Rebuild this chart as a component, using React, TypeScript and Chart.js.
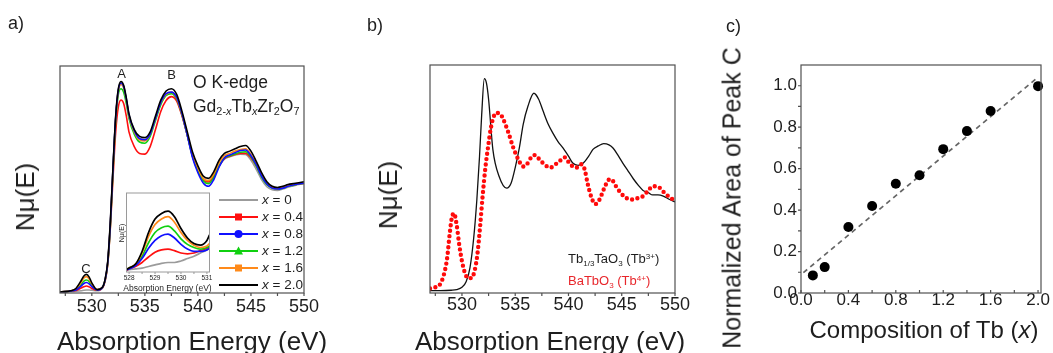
import React, { useEffect, useRef } from "react";
import { Chart, registerables } from "chart.js";

Chart.register(...registerables);

const FONT = "'Liberation Sans', Arial, Helvetica, sans-serif";
const TEXT = "#1e1e1e";

// ---------------- Panel a: O K-edge of Gd(2-x)Tb(x)Zr2O7 ----------------
const energyA = [527, 527.5, 528, 528.5, 529, 529.25, 529.5, 529.75, 530, 530.5, 531, 531.25, 531.5, 531.75, 532, 532.25, 532.5, 532.75, 533, 533.25, 533.5, 534, 534.5, 535, 535.5, 536, 536.5, 537, 537.5, 538, 538.5, 539, 539.5, 540, 540.5, 541, 541.5, 542, 542.5, 543, 543.5, 544, 544.5, 545, 545.5, 546, 546.5, 547, 547.5, 548, 548.5, 549, 549.5, 550];
const nmuX00 = [0.005, 0.006, 0.007, 0.008, 0.01, 0.012, 0.013, 0.013, 0.012, 0.01, 0.022, 0.055, 0.13, 0.3, 0.55, 0.77, 0.89, 0.92, 0.905, 0.85, 0.78, 0.71, 0.68, 0.678, 0.7, 0.77, 0.835, 0.872, 0.88, 0.855, 0.785, 0.695, 0.6, 0.54, 0.498, 0.488, 0.515, 0.56, 0.59, 0.6, 0.608, 0.612, 0.61, 0.585, 0.545, 0.5, 0.468, 0.455, 0.452, 0.458, 0.466, 0.472, 0.478, 0.482];
const nmuX04 = [0.005, 0.006, 0.008, 0.011, 0.022, 0.028, 0.031, 0.027, 0.02, 0.012, 0.022, 0.052, 0.125, 0.29, 0.51, 0.71, 0.82, 0.85, 0.835, 0.78, 0.71, 0.645, 0.615, 0.612, 0.645, 0.72, 0.8, 0.848, 0.865, 0.845, 0.78, 0.695, 0.605, 0.545, 0.5, 0.49, 0.515, 0.56, 0.592, 0.602, 0.61, 0.615, 0.615, 0.595, 0.56, 0.515, 0.482, 0.466, 0.462, 0.466, 0.472, 0.476, 0.48, 0.483];
const nmuX08 = [0.005, 0.006, 0.009, 0.013, 0.031, 0.042, 0.046, 0.04, 0.028, 0.013, 0.024, 0.057, 0.135, 0.31, 0.555, 0.775, 0.895, 0.925, 0.91, 0.855, 0.785, 0.715, 0.68, 0.675, 0.7, 0.77, 0.84, 0.878, 0.885, 0.862, 0.79, 0.695, 0.595, 0.53, 0.485, 0.47, 0.5, 0.555, 0.595, 0.608, 0.618, 0.628, 0.63, 0.605, 0.565, 0.515, 0.48, 0.462, 0.458, 0.462, 0.47, 0.476, 0.48, 0.484];
const nmuX12 = [0.005, 0.006, 0.009, 0.015, 0.038, 0.052, 0.057, 0.05, 0.033, 0.014, 0.024, 0.056, 0.13, 0.3, 0.54, 0.76, 0.875, 0.9, 0.885, 0.835, 0.77, 0.7, 0.665, 0.66, 0.69, 0.76, 0.83, 0.87, 0.878, 0.855, 0.785, 0.695, 0.6, 0.54, 0.495, 0.482, 0.51, 0.56, 0.595, 0.605, 0.612, 0.62, 0.622, 0.6, 0.56, 0.512, 0.478, 0.462, 0.458, 0.462, 0.47, 0.475, 0.48, 0.484];
const nmuX16 = [0.005, 0.006, 0.01, 0.018, 0.048, 0.066, 0.072, 0.062, 0.04, 0.015, 0.025, 0.058, 0.135, 0.31, 0.55, 0.77, 0.89, 0.92, 0.905, 0.85, 0.78, 0.71, 0.675, 0.67, 0.7, 0.77, 0.84, 0.875, 0.885, 0.86, 0.79, 0.7, 0.61, 0.55, 0.505, 0.495, 0.525, 0.575, 0.605, 0.615, 0.625, 0.632, 0.635, 0.61, 0.57, 0.52, 0.485, 0.465, 0.46, 0.465, 0.472, 0.478, 0.482, 0.486];
const nmuX20 = [0.005, 0.006, 0.01, 0.02, 0.055, 0.075, 0.082, 0.07, 0.045, 0.015, 0.025, 0.06, 0.14, 0.32, 0.56, 0.78, 0.9, 0.932, 0.915, 0.86, 0.79, 0.72, 0.69, 0.685, 0.71, 0.78, 0.85, 0.89, 0.9, 0.875, 0.8, 0.71, 0.62, 0.56, 0.515, 0.505, 0.535, 0.585, 0.615, 0.625, 0.635, 0.645, 0.65, 0.625, 0.58, 0.53, 0.49, 0.47, 0.465, 0.47, 0.478, 0.482, 0.486, 0.49];
const compositionLabelsA = ["0", "0.4", "0.8", "1.2", "1.6", "2.0"];
const seriesA = [nmuX00, nmuX04, nmuX08, nmuX12, nmuX16, nmuX20];

// inset (pre-edge peak C)
const energyInset = [527.9, 528, 528.25, 528.5, 528.75, 529, 529.25, 529.5, 529.75, 530, 530.25, 530.5, 530.75, 531, 531.1];
const insetX00 = [0.02, 0.03, 0.04, 0.05, 0.07, 0.09, 0.11, 0.12, 0.12, 0.14, 0.17, 0.2, 0.24, 0.28, 0.3];
const insetX04 = [0.02, 0.04, 0.07, 0.12, 0.19, 0.25, 0.28, 0.29, 0.27, 0.24, 0.23, 0.24, 0.27, 0.3, 0.32];
const insetX08 = [0.03, 0.04, 0.08, 0.17, 0.3, 0.4, 0.46, 0.48, 0.43, 0.35, 0.29, 0.26, 0.26, 0.28, 0.3];
const insetX12 = [0.03, 0.05, 0.09, 0.2, 0.37, 0.5, 0.56, 0.58, 0.52, 0.42, 0.35, 0.31, 0.29, 0.31, 0.33];
const insetX16 = [0.03, 0.05, 0.1, 0.24, 0.45, 0.6, 0.67, 0.7, 0.63, 0.5, 0.4, 0.34, 0.31, 0.33, 0.36];
const insetX20 = [0.03, 0.05, 0.1, 0.26, 0.5, 0.67, 0.74, 0.77, 0.7, 0.55, 0.43, 0.36, 0.34, 0.4, 0.47];
const seriesInset = [insetX00, insetX04, insetX08, insetX12, insetX16, insetX20];

const energyTicks = [527.5, 530, 532.5, 535, 537.5, 540, 542.5, 545, 547.5, 550];
const energyLabels = [530, 535, 540, 545, 550];
const insetTicks = [528, 528.5, 529, 529.5, 530, 530.5, 531];
const insetLabels = [528, 529, 530, 531];

// ---------------- Panel b: references ----------------
const energyTb3 = [527, 528, 529, 529.5, 530, 530.4, 530.75, 531.1, 531.4, 531.65, 531.85, 532.1, 532.3, 532.5, 532.9, 533.5, 534.2, 534.6, 535, 535.4, 535.75, 536.2, 536.75, 537.2, 537.6, 538.1, 538.55, 539, 539.5, 540, 540.4, 540.9, 541.4, 541.9, 542.3, 542.8, 543.3, 543.8, 544.2, 544.7, 545.1, 545.6, 546.1, 546.6, 547, 547.5, 547.9, 548.4, 548.9, 549.5, 550];
const nmuTb3 = [0.01, 0.01, 0.012, 0.015, 0.025, 0.05, 0.11, 0.24, 0.41, 0.6, 0.78, 0.94, 0.92, 0.85, 0.63, 0.51, 0.46, 0.48, 0.55, 0.64, 0.74, 0.82, 0.876, 0.85, 0.8, 0.74, 0.7, 0.665, 0.635, 0.6, 0.57, 0.56, 0.57, 0.6, 0.63, 0.645, 0.655, 0.65, 0.635, 0.6, 0.57, 0.535, 0.5, 0.47, 0.45, 0.44, 0.43, 0.43, 0.425, 0.41, 0.4];
const energyTb4 = [527, 527.5, 527.9, 528.3, 528.6, 528.85, 529.05, 529.25, 529.5, 529.75, 530, 530.3, 530.6, 530.9, 531.2, 531.45, 531.7, 531.95, 532.2, 532.45, 532.7, 532.95, 533.25, 533.6, 533.9, 534.35, 534.8, 535.3, 535.75, 536.1, 536.5, 536.85, 537.2, 537.6, 538, 538.3, 538.8, 539.2, 539.65, 540, 540.4, 540.75, 541.2, 541.5, 541.8, 542.15, 542.5, 542.8, 543.1, 543.5, 543.9, 544.2, 544.5, 544.9, 545.3, 545.7, 546.1, 546.6, 547, 547.5, 547.9, 548.3, 548.6, 549, 549.5, 550];
const nmuTb4 = [0.02, 0.025, 0.035, 0.08, 0.15, 0.26, 0.33, 0.35, 0.3, 0.21, 0.14, 0.085, 0.065, 0.066, 0.1, 0.17, 0.29, 0.43, 0.55, 0.64, 0.72, 0.77, 0.79, 0.785, 0.76, 0.705, 0.64, 0.585, 0.555, 0.565, 0.595, 0.605, 0.59, 0.57, 0.555, 0.55, 0.565, 0.58, 0.595, 0.575, 0.555, 0.55, 0.565, 0.545, 0.48, 0.42, 0.39, 0.4, 0.43, 0.475, 0.5, 0.49, 0.465, 0.44, 0.42, 0.412, 0.41, 0.418, 0.425, 0.45, 0.468, 0.468, 0.46, 0.44, 0.42, 0.405];

// ---------------- Panel c: normalized area of peak C ----------------
const compositionTb = [0.1, 0.2, 0.4, 0.6, 0.8, 1.0, 1.2, 1.4, 1.6, 2.0];
const peakCArea = [0.085, 0.125, 0.318, 0.42, 0.527, 0.568, 0.694, 0.781, 0.878, 0.998];
const fitX = [0.02, 1.98];
const fitY = [0.098, 1.032];
const compTicks = [0, 0.2, 0.4, 0.6, 0.8, 1.0, 1.2, 1.4, 1.6, 1.8, 2.0];
const compLabels = [0, 0.4, 0.8, 1.2, 1.6, 2.0];
const areaTicks = [0, 0.1, 0.2, 0.3, 0.4, 0.5, 0.6, 0.7, 0.8, 0.9, 1.0];
const areaLabels = [0, 0.2, 0.4, 0.6, 0.8, 1.0];

// ---------------- styles ----------------
const STYLE_A = [
  { color: "#9b9b9b", marker: "none", order: 5 },
  { color: "#ff1010", marker: "square", order: 4 },
  { color: "#1010ff", marker: "circle", order: 1 },
  { color: "#10d010", marker: "triangle", order: 3 },
  { color: "#ff8a1a", marker: "square", order: 2 },
  { color: "#000000", marker: "none", order: 0 },
];
const RED_B = "#ff0a0a";

type Rect = { left: number; top: number; width: number; height: number };
type Box = { l: number; t: number; r: number; b: number };

const pts = (xs: number[], ys: number[]) => xs.map((x, i) => ({ x, y: ys[i] }));

function linearAxis(o: { min: number; max: number; ticks: number[]; labels: number[]; show: boolean; size?: number; padding?: number; digits?: number }) {
  return {
    type: "linear",
    min: o.min,
    max: o.max,
    grid: { display: false, drawTicks: false, tickLength: 0 },
    border: { display: false },
    afterBuildTicks: (s: any) => {
      s.ticks = o.ticks.map((v) => ({ value: v }));
    },
    ticks: {
      display: o.show,
      autoSkip: false,
      maxRotation: 0,
      minRotation: 0,
      padding: o.padding ?? 0,
      color: TEXT,
      font: { family: FONT, size: o.size ?? 17 },
      callback: (v: number) => (o.labels.some((l) => Math.abs(l - v) < 1e-6) ? Number(v).toFixed(o.digits ?? 0) : ""),
    },
  };
}

function framePlugin(o: { color: string; width: number; xTick?: number; yTick?: number; fill?: string }) {
  return {
    id: "frame",
    beforeDraw(chart: any) {
      if (!o.fill) return;
      const a = chart.chartArea;
      const ctx = chart.ctx;
      ctx.save();
      ctx.fillStyle = o.fill;
      ctx.fillRect(a.left, a.top, a.right - a.left, a.bottom - a.top);
      ctx.restore();
    },
    afterDraw(chart: any) {
      const { ctx, chartArea: a, scales } = chart;
      ctx.save();
      ctx.strokeStyle = o.color;
      ctx.lineWidth = o.width;
      ctx.strokeRect(a.left, a.top, a.right - a.left, a.bottom - a.top);
      ctx.beginPath();
      if (o.xTick) {
        for (const t of scales.x.ticks) {
          const p = scales.x.getPixelForValue(t.value);
          ctx.moveTo(p, a.bottom);
          ctx.lineTo(p, a.bottom + o.xTick);
        }
      }
      if (o.yTick) {
        for (const t of scales.y.ticks) {
          const p = scales.y.getPixelForValue(t.value);
          ctx.moveTo(a.left, p);
          ctx.lineTo(a.left - o.yTick, p);
        }
      }
      ctx.stroke();
      ctx.restore();
    },
  };
}

function drawMarker(ctx: CanvasRenderingContext2D, kind: string, x: number, y: number, color: string) {
  ctx.fillStyle = color;
  ctx.beginPath();
  if (kind === "square") {
    ctx.rect(x - 3.5, y - 3.5, 7, 7);
  } else if (kind === "circle") {
    ctx.arc(x, y, 4, 0, Math.PI * 2);
  } else if (kind === "triangle") {
    ctx.moveTo(x, y - 4.5);
    ctx.lineTo(x + 4.5, y + 3.5);
    ctx.lineTo(x - 4.5, y + 3.5);
    ctx.closePath();
  } else return;
  ctx.fill();
}

const legendAPlugin = {
  id: "legendA",
  afterDraw(chart: any) {
    const ctx: CanvasRenderingContext2D = chart.ctx;
    ctx.save();
    compositionLabelsA.forEach((lab, i) => {
      const st = STYLE_A[i];
      const y = 200 + 17 * i;
      ctx.strokeStyle = st.color;
      ctx.lineWidth = 1.8;
      ctx.beginPath();
      ctx.moveTo(219, y);
      ctx.lineTo(258, y);
      ctx.stroke();
      drawMarker(ctx, st.marker, 238.5, y, st.color);
      ctx.fillStyle = TEXT;
      ctx.textBaseline = "middle";
      ctx.textAlign = "left";
      ctx.font = `italic 13.5px ${FONT}`;
      ctx.fillText("x", 262, y);
      const w = ctx.measureText("x").width;
      ctx.font = `13.5px ${FONT}`;
      ctx.fillText(" = " + lab, 262 + w, y);
    });
    ctx.restore();
  },
};

function baseOptions(scales: any) {
  return {
    responsive: false,
    maintainAspectRatio: false,
    animation: false,
    devicePixelRatio: 1,
    events: [],
    plugins: { legend: { display: false }, tooltip: { enabled: false }, title: { display: false } },
    scales,
  };
}

function ChartCanvas(props: { rect: Rect; box: Box; make: () => any }) {
  const ref = useRef<HTMLCanvasElement | null>(null);
  useEffect(() => {
    const { rect, box } = props;
    const cfg = props.make();
    const padL = box.l - rect.left;
    const padT = box.t - rect.top;
    const padR = rect.left + rect.width - box.r;
    const padB = rect.top + rect.height - box.b;
    const fix = (size: number) => (s: any) => {
      if (s.isHorizontal()) s.height = size;
      else s.width = size;
      s.paddingLeft = 0;
      s.paddingRight = 0;
      s.paddingTop = 0;
      s.paddingBottom = 0;
    };
    cfg.options.scales.x.afterFit = fix(padB);
    cfg.options.scales.y.afterFit = fix(padL);
    cfg.options.layout = { padding: { left: 0, top: padT, right: padR, bottom: 0 } };
    const chart = new Chart(ref.current as HTMLCanvasElement, cfg);
    return () => chart.destroy();
  }, []);
  const r = props.rect;
  return (
    <canvas
      ref={ref}
      width={r.width}
      height={r.height}
      style={{ position: "absolute", left: r.left, top: r.top, width: r.width, height: r.height, display: "block" }}
    />
  );
}

// ---------------- chart configs ----------------
function makeA() {
  const datasets = seriesA.map((ys, i) => ({
    data: pts(energyA, ys),
    showLine: true,
    borderColor: STYLE_A[i].color,
    borderWidth: 1.6,
    pointRadius: 0,
    cubicInterpolationMode: "monotone",
    order: STYLE_A[i].order,
  }));
  return {
    type: "scatter",
    data: { datasets },
    options: baseOptions({
      x: linearAxis({ min: 527, max: 550, ticks: energyTicks, labels: energyLabels, show: true, size: 18, padding: 3 }),
      y: linearAxis({ min: 0, max: 1, ticks: [], labels: [], show: false }),
    }),
    plugins: [framePlugin({ color: "#505050", width: 1.2, xTick: 3 }), legendAPlugin],
  };
}

function makeInset() {
  const datasets = seriesInset.map((ys, i) => ({
    data: pts(energyInset, ys),
    showLine: true,
    borderColor: STYLE_A[i].color,
    borderWidth: 1.7,
    pointRadius: 0,
    cubicInterpolationMode: "monotone",
    order: STYLE_A[i].order,
  }));
  return {
    type: "scatter",
    data: { datasets },
    options: baseOptions({
      x: linearAxis({ min: 527.9, max: 531.1, ticks: insetTicks, labels: insetLabels, show: true, size: 6.5, padding: 2.5 }),
      y: linearAxis({ min: 0, max: 1, ticks: [], labels: [], show: false }),
    }),
    plugins: [framePlugin({ color: "#9a9a9a", width: 1, xTick: 2, fill: "#ffffff" })],
  };
}

function makeB() {
  return {
    type: "scatter",
    data: {
      datasets: [
        {
          data: pts(energyTb4, nmuTb4),
          showLine: true,
          borderColor: RED_B,
          borderWidth: 4.4,
          borderDash: [0, 5.5],
          borderCapStyle: "round",
          pointRadius: 0,
          cubicInterpolationMode: "monotone",
          order: 0,
        },
        {
          data: pts(energyTb3, nmuTb3),
          showLine: true,
          borderColor: "#111111",
          borderWidth: 1.3,
          pointRadius: 0,
          cubicInterpolationMode: "monotone",
          order: 1,
        },
      ],
    },
    options: baseOptions({
      x: linearAxis({ min: 527, max: 550, ticks: energyTicks, labels: energyLabels, show: true, size: 18, padding: 1 }),
      y: linearAxis({ min: 0, max: 1, ticks: [], labels: [], show: false }),
    }),
    plugins: [framePlugin({ color: "#505050", width: 1.2, xTick: 3 })],
  };
}

function makeC() {
  return {
    type: "scatter",
    data: {
      datasets: [
        {
          data: pts(compositionTb, peakCArea),
          showLine: false,
          pointRadius: 5,
          pointBackgroundColor: "#000000",
          pointBorderColor: "#000000",
          pointBorderWidth: 0,
          clip: false,
          order: 0,
        },
        {
          data: pts(fitX, fitY),
          showLine: true,
          borderColor: "#666666",
          borderWidth: 1.7,
          borderDash: [5, 4],
          pointRadius: 0,
          order: 1,
        },
      ],
    },
    options: baseOptions({
      x: linearAxis({ min: 0, max: 2.025, ticks: compTicks, labels: compLabels, show: true, size: 17, padding: -3, digits: 1 }),
      y: linearAxis({ min: 0, max: 1.1, ticks: areaTicks, labels: areaLabels, show: true, size: 17, padding: 4, digits: 1 }),
    }),
    plugins: [framePlugin({ color: "#505050", width: 1.2, xTick: -3, yTick: 3 })],
  };
}

// ---------------- text helpers ----------------
const Sub = ({ children }: any) => <span style={{ fontSize: "0.62em", position: "relative", top: "0.32em" }}>{children}</span>;
const Sup = ({ children }: any) => <span style={{ fontSize: "0.62em", position: "relative", top: "-0.55em" }}>{children}</span>;

function Txt(props: { x: number; y: number; size: number; color?: string; align?: "left" | "center"; rotate?: boolean; children: any }) {
  const { x, y, size, color, align, rotate, children } = props;
  const style: any = {
    position: "absolute",
    left: x,
    top: y,
    fontSize: size,
    lineHeight: 1,
    whiteSpace: "nowrap",
    color: color || TEXT,
    fontFamily: FONT,
  };
  if (rotate) style.transform = "translate(-50%, -50%) rotate(-90deg)";
  else if (align === "center") style.transform = "translate(-50%, -50%)";
  else style.transform = "translate(0, -50%)";
  return <div style={style}>{children}</div>;
}

export default function App() {
  return (
    <div style={{ position: "absolute", left: 0, top: 0, width: 1053, height: 353, background: "#ffffff", overflow: "hidden", fontFamily: FONT }}>
      <ChartCanvas rect={{ left: 0, top: 0, width: 330, height: 353 }} box={{ l: 60, t: 66, r: 304, b: 293 }} make={makeA} />
      <ChartCanvas rect={{ left: 100, top: 180, width: 120, height: 120 }} box={{ l: 126.5, t: 193, r: 209.5, b: 272 }} make={makeInset} />
      <ChartCanvas rect={{ left: 330, top: 0, width: 370, height: 353 }} box={{ l: 430, t: 65, r: 675, b: 293 }} make={makeB} />
      <ChartCanvas rect={{ left: 700, top: 0, width: 353, height: 353 }} box={{ l: 801, t: 65, r: 1041, b: 293 }} make={makeC} />

      {/* panel letters */}
      <Txt x={8} y={23} size={18}>a)</Txt>
      <Txt x={367} y={25} size={18}>b)</Txt>
      <Txt x={726} y={26} size={18}>c)</Txt>

      {/* panel a annotations */}
      <Txt x={121.5} y={73} size={13} align="center">A</Txt>
      <Txt x={171.5} y={74} size={13} align="center">B</Txt>
      <Txt x={86} y={268} size={13} align="center">C</Txt>
      <Txt x={193} y={83} size={17.5}>O K-edge</Txt>
      <Txt x={193} y={107} size={17.5}>
        Gd<Sub>2-<i>x</i></Sub>Tb<Sub><i>x</i></Sub>Zr<Sub>2</Sub>O<Sub>7</Sub>
      </Txt>
      <Txt x={121} y={233} size={7} rotate>Nμ(E)</Txt>
      <Txt x={167.5} y={288} size={8.5} align="center">Absorption Energy (eV)</Txt>
      <Txt x={192} y={341} size={26} align="center">Absorption Energy (eV)</Txt>
      <Txt x={25} y={197} size={26} rotate>Nμ(E)</Txt>

      {/* panel b annotations */}
      <Txt x={568} y={259} size={13}>
        Tb<Sub>1/3</Sub>TaO<Sub>3</Sub> (Tb<Sup>3+</Sup>)
      </Txt>
      <Txt x={568} y={281} size={13} color="#e8262b">
        BaTbO<Sub>3</Sub> (Tb<Sup>4+</Sup>)
      </Txt>
      <Txt x={550} y={341} size={26} align="center">Absorption Energy (eV)</Txt>
      <Txt x={388} y={195} size={26} rotate>Nμ(E)</Txt>

      {/* panel c annotations */}
      <Txt x={924} y={330} size={24} align="center">
        Composition of Tb (<i>x</i>)
      </Txt>
      <Txt x={732} y={198} size={25} rotate>Normalized Area of Peak C</Txt>
    </div>
  );
}
